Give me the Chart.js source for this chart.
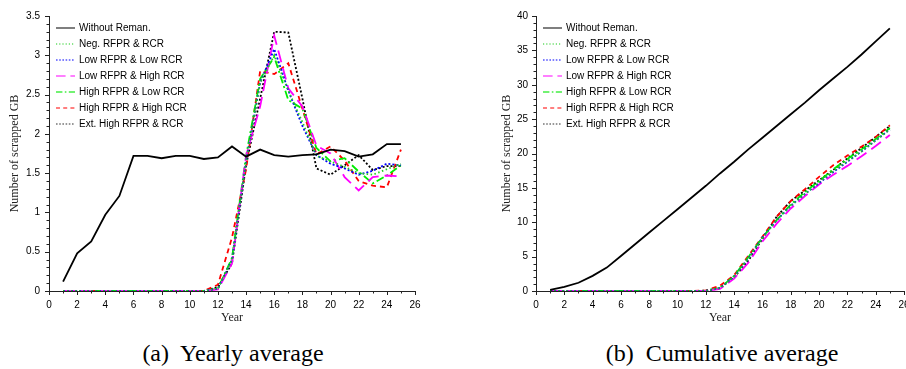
<!DOCTYPE html>
<html><head><meta charset="utf-8">
<script src="https://cdn.jsdelivr.net/npm/chart.js@4.4.1/dist/chart.umd.min.js"></script>
<style>
html,body{margin:0;padding:0;background:#fff;width:906px;height:369px;overflow:hidden;position:relative;}
canvas{position:absolute;top:0;}
#c1{left:0}
#c2{left:470px}
.legend{position:absolute;top:20px;font:10px "Liberation Sans",Arial,sans-serif;color:#000;}
.legend .row{height:16px;line-height:16px;white-space:nowrap;display:flex;align-items:center;}
.legend svg{width:19px;height:16px;margin-right:4px;flex:none}
.cap{position:absolute;top:340px;font:24px "Liberation Serif","Times New Roman",serif;white-space:nowrap;transform:translateX(-50%);color:#000}
</style></head><body>
<canvas id="c1" width="450" height="330"></canvas>
<canvas id="c2" width="436" height="330"></canvas>
<div class="legend" id="leg1" style="left:56px"></div>
<div class="legend" id="leg2" style="left:543px"></div>
<div class="cap" style="left:233px">(a)&nbsp; Yearly average</div>
<div class="cap" style="left:722px">(b)&nbsp; Cumulative average</div>
<script>
// ---------- data ----------
const years = [1,2,3,4,5,6,7,8,9,10,11,12,13,14,15,16,17,18,19,20,21,22,23,24,25];
const seriesNames = ['Without Reman.','Neg. RFPR & RCR','Low RFPR & Low RCR','Low RFPR & High RCR','High RFPR & Low RCR','High RFPR & High RCR','Ext. High RFPR & RCR'];

// yearly average (left panel)
const yearlyWithout = [0.12,0.48,0.63,0.97,1.21,1.72,1.72,1.69,1.72,1.72,1.68,1.70,1.84,1.71,1.80,1.73,1.71,1.73,1.74,1.80,1.78,1.71,1.74,1.87,1.87];
const yearlyNeg     = [0,0,0,0,0,0,0,0,0,0,0,0.03,0.40,1.65,2.65,3.00,2.55,2.15,1.72,1.65,1.58,1.50,1.48,1.55,1.62];
const yearlyLowLow  = [0,0,0,0,0,0,0,0,0,0,0,0.03,0.40,1.65,2.65,3.08,2.55,2.10,1.73,1.62,1.56,1.48,1.53,1.62,1.60];
const yearlyLowHigh = [0,0,0,0,0,0,0,0,0,0,0,0.02,0.35,1.72,2.35,3.25,2.58,2.35,1.85,1.75,1.45,1.28,1.45,1.47,1.46];
const yearlyHighLow = [0,0,0,0,0,0,0,0,0,0,0,0.03,0.42,1.72,2.70,2.98,2.43,2.32,1.82,1.65,1.69,1.52,1.37,1.47,1.60];
const yearlyHighHigh= [0,0,0,0,0,0,0,0,0,0,0,0.08,0.68,1.55,2.80,2.76,2.90,2.32,1.74,1.84,1.66,1.40,1.34,1.32,1.80];
const yearlyExtHigh = [0,0,0,0,0,0,0,0,0,0,0,0.05,0.35,1.60,2.45,3.30,3.29,2.45,1.56,1.48,1.60,1.73,1.54,1.59,1.59];

// cumulative average (right panel)
const cumWithout = [0.15,0.6,1.2,2.2,3.4,5.1,6.8,8.5,10.2,11.9,13.6,15.3,17.1,18.8,20.6,22.3,24.0,25.7,27.4,29.2,30.9,32.6,34.4,36.3,38.2];
const cumNeg     = [0,0,0,0,0,0,0,0,0,0,0,0.03,0.43,2.1,4.7,7.7,10.3,12.4,14.1,15.8,17.4,18.9,20.3,21.9,23.5];
const cumLowLow  = [0,0,0,0,0,0,0,0,0,0,0,0.03,0.43,2.1,4.7,7.8,10.3,12.4,14.1,15.7,17.3,18.8,20.3,21.9,23.5];
const cumLowHigh = [0,0,0,0,0,0,0,0,0,0,0,0.02,0.3,1.8,4.1,7.2,9.8,12.0,13.8,15.5,16.9,18.2,19.6,21.1,22.7];
const cumHighLow = [0,0,0,0,0,0,0,0,0,0,0,0.03,0.45,2.2,4.9,7.8,10.3,12.6,14.4,16.0,17.7,19.2,20.6,22.1,23.7];
const cumHighHigh= [0,0,0,0,0,0,0,0,0,0,0,0.08,0.76,2.3,5.1,7.9,10.8,13.1,14.8,16.6,18.3,19.7,21.0,22.4,24.1];
const cumExtHigh = [0,0,0,0,0,0,0,0,0,0,0,0.05,0.4,2.0,4.4,7.6,10.8,13.1,14.6,16.1,17.6,19.3,20.8,22.4,24.0];

// tick labels
const xTickLabels = ['0','2','4','6','8','10','12','14','16','18','20','22','24','26'];
const yTickLabelsYearly = ['0','0.5','1','1.5','2','2.5','3','3.5'];
const yTickLabelsCum = ['0','5','10','15','20','25','30','35','40'];

// ---------- styles ----------
const lineColors = ['#000000','#22cc22','#0000ff','#ff00ff','#00ee00','#ff0000','#000000'];
const lineDashes = [[],[1.5,2.5],[2,2],[12,6],[8,3,2,3],[5,4],[2,2]];
const legendColors = ['#555','#66dd66','#5555ff','#ff55ff','#44ee44','#ff5555','#777'];

function buildDatasets(arrays){
  return arrays.map((arr,i)=>({
    label: seriesNames[i],
    data: years.map((yr,k)=>({x:yr,y:arr[k]})),
    borderColor: lineColors[i],
    borderDash: lineDashes[i],
    borderWidth: 1.8,
    pointRadius: 0,
    tension: 0,
    fill: false,
    borderCapStyle: 'butt'
  }));
}

const tickPlugin = {
  id:'axisTicks',
  afterDraw(chart, args, o){
    const {ctx} = chart; const xs = chart.scales.x, ys = chart.scales.y;
    ctx.save(); ctx.strokeStyle='#222'; ctx.lineWidth=1;
    const nx = Math.round((o.xMax-o.xMin)/o.xMinor);
    for(let i=0;i<=nx;i++){
      const v = o.xMin + i*o.xMinor;
      const major = Math.abs(v/o.xMajor - Math.round(v/o.xMajor))<1e-6;
      const p = Math.round(xs.getPixelForValue(v))+0.5;
      ctx.beginPath(); ctx.moveTo(p, ys.bottom); ctx.lineTo(p, ys.bottom+(major?4:2.5)); ctx.stroke();
    }
    const ny = Math.round((o.yMax-o.yMin)/o.yMinor);
    for(let i=0;i<=ny;i++){
      const v = o.yMin + i*o.yMinor;
      const major = Math.abs(v/o.yMajor - Math.round(v/o.yMajor))<1e-6;
      const p = Math.round(ys.getPixelForValue(v))+0.5;
      ctx.beginPath(); ctx.moveTo(xs.left, p); ctx.lineTo(xs.left-(major?4:2.5), p); ctx.stroke();
    }
    ctx.restore();
  }
};

function makeChart(id, arrays, yMax, yStep, yMinor, yLabels, yWidth, yTitlePad, yTickPad, padRight){
  return new Chart(document.getElementById(id), {
    type:'line',
    data:{datasets: buildDatasets(arrays)},
    plugins:[tickPlugin],
    options:{
      responsive:false, animation:false, devicePixelRatio:1,
      layout:{padding:{left:0,right:padRight,top:16,bottom:3}},
      plugins:{legend:{display:false}, tooltip:{enabled:false},
        axisTicks:{xMin:0,xMax:26,xMinor:1,xMajor:2,yMin:0,yMax:yMax,yMinor:yMinor,yMajor:yStep}},
      scales:{
        x:{type:'linear',min:0,max:26,
          ticks:{stepSize:2,autoSkip:false,maxRotation:0,padding:4,color:'#000',
            font:{family:'"Liberation Sans", Arial, sans-serif',size:10},
            callback:(v)=>{const s=String(v);return xTickLabels.includes(s)?s:'';}},
          grid:{display:true,drawOnChartArea:false,drawTicks:true,tickLength:4,color:'rgba(0,0,0,0)'},
          border:{display:true,color:'#222',width:1},
          title:{display:true,text:'Year',color:'#222',font:{family:'"Liberation Serif","Times New Roman",serif',size:12},padding:{top:0,bottom:2}},
          afterFit(s){s.height=36;s.paddingLeft=0;s.paddingRight=0;}
        },
        y:{type:'linear',min:0,max:yMax,
          ticks:{stepSize:yStep,autoSkip:false,padding:yTickPad,color:'#000',
            font:{family:'"Liberation Sans", Arial, sans-serif',size:10},
            callback:(v)=>{const s=String(v);return yLabels.includes(s)?s:'';}},
          grid:{display:true,drawOnChartArea:false,drawTicks:true,tickLength:4,color:'rgba(0,0,0,0)'},
          border:{display:true,color:'#222',width:1},
          title:{display:true,text:'Number of scrapped GB',color:'#222',font:{family:'"Liberation Serif","Times New Roman",serif',size:12},padding:{top:yTitlePad,bottom:0}},
          afterFit(s){s.width=yWidth;s.paddingTop=0;s.paddingBottom=0;}
        }
      }
    }
  });
}

makeChart('c1',[yearlyWithout,yearlyNeg,yearlyLowLow,yearlyLowHigh,yearlyHighLow,yearlyHighHigh,yearlyExtHigh],3.5,0.5,0.1,yTickLabelsYearly,49,8,5,35);
makeChart('c2',[cumWithout,cumNeg,cumLowLow,cumLowHigh,cumHighLow,cumHighHigh,cumExtHigh],40,5,1,yTickLabelsCum,66,30,4,2);

function buildLegend(id){
  const el = document.getElementById(id);
  seriesNames.forEach((name,i)=>{
    const row = document.createElement('div'); row.className='row';
    const dash = lineDashes[i].length? lineDashes[i].map(v=>v*0.8).join(' ') : 'none';
    row.innerHTML = '<svg viewBox="0 0 19 16"><line x1="0" y1="8" x2="19" y2="8" stroke="'+legendColors[i]+'" stroke-width="1.5" stroke-dasharray="'+dash+'"/></svg>';
    const t = document.createElement('span'); t.textContent = name; row.appendChild(t);
    el.appendChild(row);
  });
}
buildLegend('leg1'); buildLegend('leg2');
</script>
</body></html>
